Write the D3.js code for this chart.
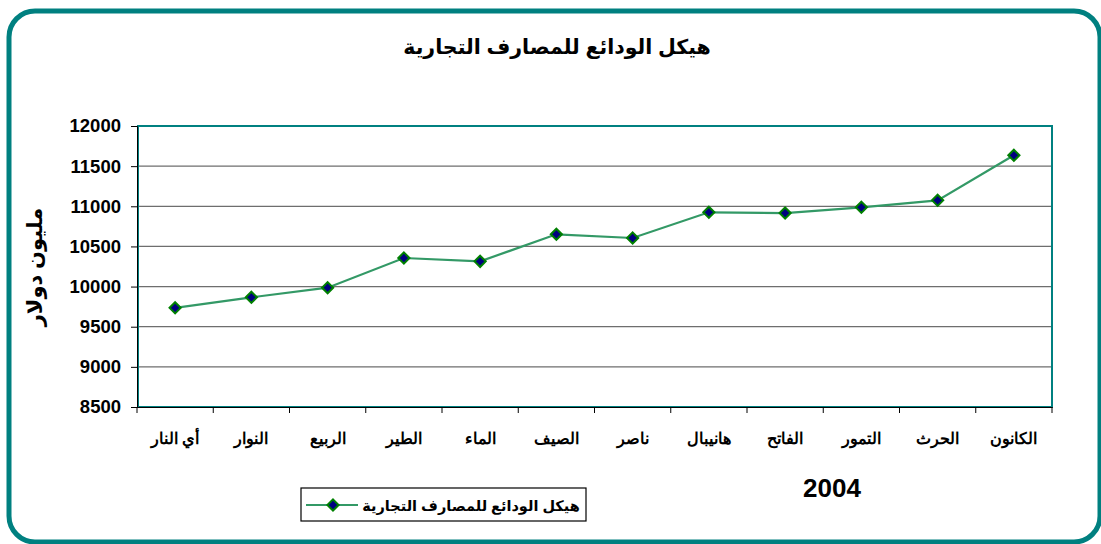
<!DOCTYPE html>
<html>
<head>
    <meta charset="utf-8" />
    <title>هيكل الودائع للمصارف التجارية</title>
    <style>
        html, body { margin: 0; padding: 0; background: #fff; }
        svg { display: block; font-family: Arial, "Liberation Sans", "DejaVu Sans", sans-serif; font-weight: bold; }
        .grid line { stroke: #6e6e6e; stroke-width: 1.2; }
    </style>
    <script src="https://cdn.jsdelivr.net/npm/d3@7/dist/d3.min.js"></script>
</head>
<body>
    <div id="chart"></div>

    <script>
        // data
        var months = ['أي النار', 'النوار', 'الربيع', 'الطير', 'الماء', 'الصيف',
                      'ناصر', 'هانيبال', 'الفاتح', 'التمور', 'الحرث', 'الكانون'];
        var deposits = [9735, 9866, 9986, 10356, 10314, 10651,
                        10605, 10925, 10916, 10987, 11074, 11635];
        var yTicks = [8500, 9000, 9500, 10000, 10500, 11000, 11500, 12000];
        var title = 'هيكل الودائع للمصارف التجارية';
        var yTitle = 'مليون دولار';
        var xTitle = '2004';

        var width = 1101,
            height = 544;
        var plot = { left: 137, right: 1052, top: 126, bottom: 407 };

        var svg = d3.select('#chart')
            .append('svg')
            .attr('width', width)
            .attr('height', height);

        // rounded outer frame
        svg.append('rect')
            .attr('x', 9).attr('y', 11)
            .attr('width', 1091).attr('height', 531)
            .attr('rx', 26).attr('ry', 26)
            .attr('fill', 'none')
            .attr('stroke', '#008080')
            .attr('stroke-width', 5);

        var x = d3.scaleBand()
            .domain(months)
            .range([plot.left, plot.right]);

        var y = d3.scaleLinear()
            .domain([8500, 12000])
            .range([plot.bottom, plot.top]);

        // gridlines
        svg.append('g')
            .attr('class', 'grid')
            .selectAll('line')
            .data(yTicks.slice(1, -1))
            .enter()
            .append('line')
            .attr('x1', plot.left).attr('x2', plot.right)
            .attr('y1', d => y(d)).attr('y2', d => y(d));

        // plot area border
        svg.append('rect')
            .attr('x', plot.left + 1).attr('y', plot.top)
            .attr('width', plot.right - plot.left - 1)
            .attr('height', plot.bottom - plot.top)
            .attr('fill', 'none')
            .attr('stroke', '#008080')
            .attr('stroke-width', 2);

        var yAxis = d3.axisLeft(y)
            .tickValues(yTicks)
            .tickFormat(d3.format('d'))
            .tickSize(6)
            .tickPadding(10);

        var gY = svg.append('g')
            .attr('transform', 'translate(' + plot.left + ',0)')
            .call(yAxis);
        gY.selectAll('text')
            .attr('font-size', 18.5)
            .attr('font-family', '"Liberation Sans", Arial, sans-serif')
            .attr('font-weight', 'bold')
            .attr('fill', '#000');
        gY.selectAll('line, path').attr('stroke', '#000');

        var xAxis = d3.axisBottom(x)
            .tickSize(0)
            .tickPadding(26);

        var gX = svg.append('g')
            .attr('transform', 'translate(0,' + plot.bottom + ')')
            .call(xAxis);
        gX.select('.domain').attr('stroke', '#000');
        gX.selectAll('text').attr('font-size', 16).attr('font-weight', 'bold').attr('fill', '#000');

        // category boundary ticks
        gX.selectAll('.bound')
            .data(months.concat(['end']))
            .enter()
            .append('line')
            .attr('x1', (d, i) => i < months.length ? x(d) : plot.right)
            .attr('x2', (d, i) => i < months.length ? x(d) : plot.right)
            .attr('y1', 0).attr('y2', 6)
            .attr('stroke', '#000');

        // series line
        var line = d3.line()
            .x((d, i) => x(months[i]) + x.bandwidth() / 2)
            .y(d => y(d));

        svg.append('path')
            .datum(deposits)
            .attr('d', line)
            .attr('fill', 'none')
            .attr('stroke', '#339966')
            .attr('stroke-width', 2.2);

        var diamond = d3.symbol().type(d3.symbolDiamond2).size(80);

        svg.selectAll('.pt')
            .data(deposits)
            .enter()
            .append('path')
            .attr('class', 'pt')
            .attr('transform', (d, i) => 'translate(' + (x(months[i]) + x.bandwidth() / 2) + ',' + y(d) + ')')
            .attr('d', diamond)
            .attr('fill', '#000080')
            .attr('stroke', '#008000')
            .attr('stroke-width', 2);

        // titles
        svg.append('text')
            .attr('x', 557).attr('y', 54)
            .attr('font-size', 20.5)
            .style('text-anchor', 'middle')
            .text(title);

        svg.append('text')
            .attr('transform', 'translate(42,267) rotate(-90)')
            .style('text-anchor', 'middle')
            .attr('font-size', 21)
            .text(yTitle);

        svg.append('text')
            .attr('x', 832).attr('y', 497)
            .style('text-anchor', 'middle')
            .attr('font-family', '"Liberation Sans", Arial, sans-serif')
            .attr('font-size', 26)
            .text(xTitle);

        // legend
        var legend = svg.append('g');
        legend.append('rect')
            .attr('x', 301).attr('y', 488)
            .attr('width', 285).attr('height', 33)
            .attr('fill', '#fff')
            .attr('stroke', '#000')
            .attr('stroke-width', 1.2);
        legend.append('line')
            .attr('x1', 306).attr('x2', 358)
            .attr('y1', 505).attr('y2', 505)
            .attr('stroke', '#339966')
            .attr('stroke-width', 2.2);
        legend.append('path')
            .attr('transform', 'translate(333,505)')
            .attr('d', diamond)
            .attr('fill', '#000080')
            .attr('stroke', '#008000')
            .attr('stroke-width', 2);
        legend.append('text')
            .attr('x', 471).attr('y', 511)
            .style('text-anchor', 'middle')
            .attr('font-size', 14.5)
            .text(title);
    </script>
</body>
</html>
